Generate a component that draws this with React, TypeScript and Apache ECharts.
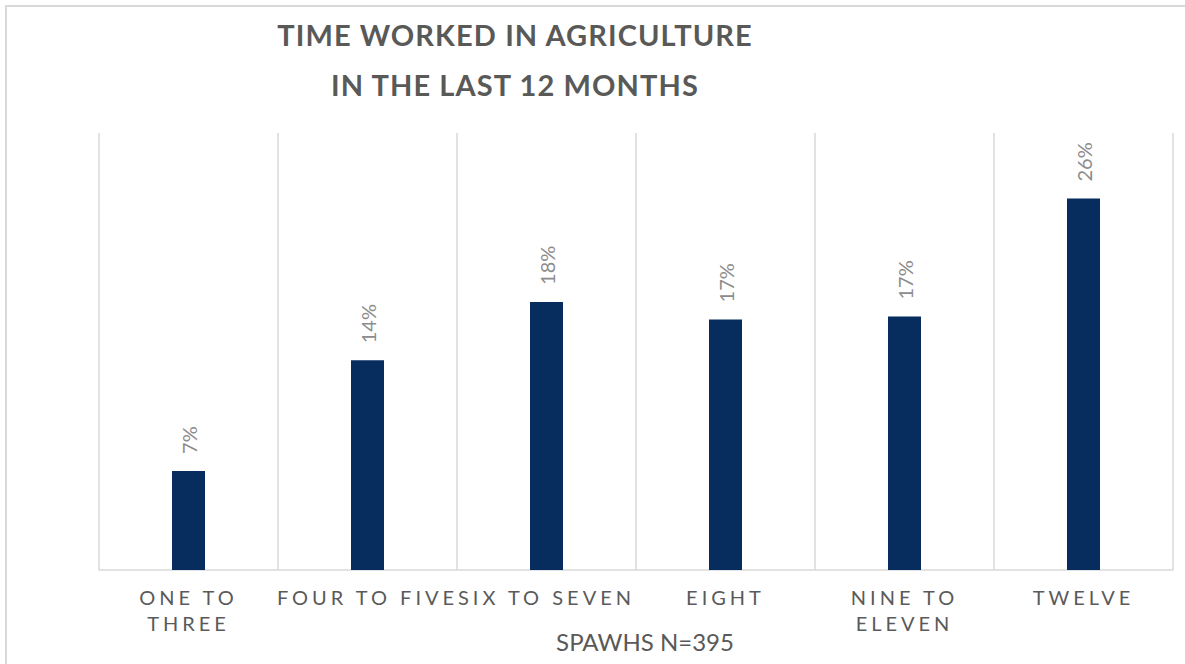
import React, { useEffect, useRef } from "react";
import * as echarts from "echarts";

const categories = ["ONE TO\nTHREE", "FOUR TO FIVE", "SIX TO SEVEN", "EIGHT", "NINE TO\nELEVEN", "TWELVE"];
const shares = [6.8, 14.4, 18.4, 17.2, 17.4, 25.5];
const titleText = "TIME WORKED IN AGRICULTURE\nIN THE LAST 12 MONTHS";
const footerText = "SPAWHS N=395";

const W = 1185;
const H = 664;

export default function App() {
  const ref = useRef<HTMLDivElement>(null);
  useEffect(() => {
    if (!ref.current) return;
    const chart = echarts.init(ref.current, null, { renderer: "svg", width: W, height: H });
    chart.setOption({
      animation: false,
      backgroundColor: "#ffffff",
      grid: { left: 99, right: 12, top: 133, bottom: 94, containLabel: false },
      xAxis: {
        type: "category",
        data: categories,
        axisLine: { show: true, lineStyle: { color: "#d9d9d9", width: 1.5 } },
        axisTick: { show: false },
        splitLine: { show: true, lineStyle: { color: "#d9d9d9", width: 1.5 } },
        axisLabel: {
          interval: 0,
          margin: 14,
          color: "#5a5a5a",
          fontFamily: "Lato",
          fontSize: 20,
          lineHeight: 26,
        },
      },
      yAxis: {
        type: "value",
        min: 0,
        max: 30,
        show: false,
        splitLine: { show: false },
      },
      series: [
        {
          type: "bar",
          data: shares,
          barWidth: 33,
          itemStyle: { color: "#072d5e" },
          label: {
            show: true,
            position: "top",
            rotate: 90,
            align: "left",
            verticalAlign: "middle",
            distance: 17,
            color: "#8c8c8c",
            fontFamily: "Lato",
            fontSize: 20,
            formatter: (p: any) => Math.round(p.value) + "%",
          },
        },
      ],
      graphic: [
        {
          type: "rect",
          silent: true,
          shape: { x: 6, y: 6, width: 1300, height: 800 },
          style: { fill: "none", stroke: "#d9d9d9", lineWidth: 2 },
        },
        {
          type: "text",
          x: 515,
          y: 9,
          style: {
            text: titleText,
            fill: "#595958",
            fontFamily: "Lato",
            fontWeight: "bold",
            fontSize: 29,
            lineHeight: 50,
            align: "center",
            verticalAlign: "top",
          },
        },
        {
          type: "text",
          x: 645,
          y: 629,
          style: {
            text: footerText,
            fill: "#595959",
            fontFamily: "Lato",
            fontSize: 24,
            align: "center",
            verticalAlign: "top",
          },
        },
      ],
    });
    return () => chart.dispose();
  }, []);
  return (
    <>
      <style>{`.chart-root text[fill="#5a5a5a"]{letter-spacing:4px}.chart-root text[fill="#595958"]{letter-spacing:1.1px}`}</style>
      <div
        ref={ref}
        className="chart-root"
        style={{ position: "absolute", left: 0, top: 0, width: W, height: H }}
      />
    </>
  );
}
